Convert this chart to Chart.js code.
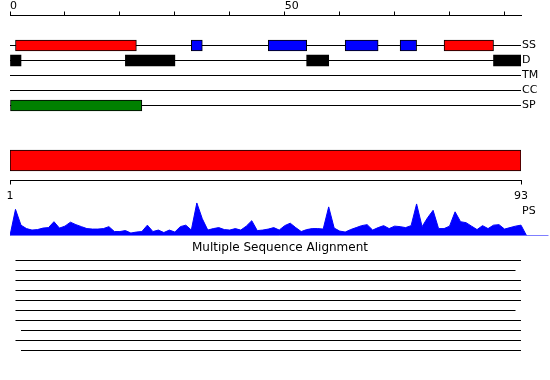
<!DOCTYPE html>
<html>
<head>
<meta charset="utf-8">
<script src="https://cdn.jsdelivr.net/npm/chart.js@4/dist/chart.umd.min.js"></script>
<style>
  body { margin: 0; background: #fff; }
  #wrap { position: relative; width: 550px; height: 380px; overflow: hidden; }
  canvas { position: absolute; left: 0; }
  #psLabel { position: absolute; left: 522px; top: 205px; font: 11px/11px "DejaVu Sans", sans-serif; color: #000; }
</style>
</head>
<body>
<div id="wrap">
  <canvas id="tracks" width="550" height="121" style="top:0"></canvas>
  <canvas id="domain" width="550" height="62" style="top:140px"></canvas>
  <canvas id="profile" width="550" height="40" style="top:200px"></canvas>
  <div id="psLabel">PS</div>
  <canvas id="msa" width="550" height="120" style="top:242px"></canvas>
</div>
<script>
// sequence + feature tracks
const SEQ_LEN = 93;
const topTicks = [0, 50];
const trackNames = ['SS', 'D', 'TM', 'CC', 'SP'];
const helices = [[1, 23], [79, 88]];
const strands = [[33, 35], [47, 54], [61, 67], [71, 74]];
const disorder = [[0, 2], [21, 30], [54, 58], [88, 93]];
const transmembrane = [];
const coiledCoil = [];
const signalPeptide = [[0, 24]];

// domain bar (PS)
const domain = [1, 93];

// per residue profile, residues 1..93
const profile = [
  26.5, 10.5, 7, 5.5, 6, 7.5, 8, 14, 7.5, 9.5,
  13.5, 11, 9, 7, 6.5, 6.5, 7, 9, 4, 4,
  5, 2.5, 3.5, 4, 10.5, 4, 5.5, 3, 5.5, 3.5,
  9, 10.5, 5.5, 33, 17, 5.5, 7, 8, 6, 5.5,
  7, 5.5, 9.5, 15, 5, 5.5, 6.5, 8, 5.5, 10,
  12.5, 8, 4, 6, 7, 7, 6.5, 29, 7.5, 4.5,
  3.5, 6, 8, 10, 11, 5.5, 8, 10, 7, 9.5,
  9, 8, 10, 32, 9, 18, 25.5, 7, 7, 9.5,
  24, 14, 13, 9.5, 6, 10, 7, 10.5, 11, 6.5,
  8, 9.5, 10.5
];

// alignment rows (start / end residue)
const msaStart = [1, 1, 1, 1, 1, 1, 1, 2, 1, 2];
const msaEnd = [93, 92, 93, 93, 93, 92, 93, 93, 93, 93];

// x range that keeps residue 93 under the same pixel when the plot runs to the right edge
const FULL_X = 540 * SEQ_LEN / 511;

Chart.defaults.font.family = '"DejaVu Sans", sans-serif';
Chart.defaults.font.size = 11;
Chart.defaults.color = '#000';
Chart.defaults.animation = false;
Chart.defaults.responsive = false;
Chart.defaults.plugins.legend.display = false;
Chart.defaults.plugins.tooltip.enabled = false;

const row = (name) => trackNames.indexOf(name) + 2;
const boxes = (ranges, name) => ranges.map(r => ({ x: r, y: row(name) }));
const boxStyle = {
  type: 'bar', indexAxis: 'y', grouped: false, barThickness: 11,
  borderSkipped: false, borderColor: '#000', borderWidth: 1, order: 0
};
// labels may stick out of the axis, don't let them shrink the plot
const noLabelPadding = (s) => {
  s.paddingTop = 0; s.paddingBottom = 0; s.paddingLeft = 0; s.paddingRight = 0;
};

// Tracks
new Chart(document.getElementById('tracks'), {
  type: 'line',
  data: {
    datasets: [
      { ...boxStyle, data: boxes(helices, 'SS'), backgroundColor: '#ff0000' },
      { ...boxStyle, data: boxes(strands, 'SS'), backgroundColor: '#0000ff' },
      { ...boxStyle, data: boxes(disorder, 'D'), backgroundColor: '#000000', borderWidth: 0 },
      { ...boxStyle, data: boxes(transmembrane, 'TM'), backgroundColor: '#000000' },
      { ...boxStyle, data: boxes(coiledCoil, 'CC'), backgroundColor: '#000000' },
      { ...boxStyle, data: boxes(signalPeptide, 'SP'), backgroundColor: '#008000' },
      ...trackNames.map(n => ({
        type: 'line',
        data: [{ x: 0, y: row(n) }, { x: SEQ_LEN, y: row(n) }],
        borderColor: '#000', borderWidth: 1, pointRadius: 0, order: 1
      }))
    ]
  },
  options: {
    devicePixelRatio: 1,
    layout: { padding: { left: 10, right: 0, top: 0.5, bottom: 0.5 } },
    scales: {
      x: {
        type: 'linear', position: 'top', min: 0, max: SEQ_LEN, offset: false,
        afterFit: (s) => { s.height = 15; noLabelPadding(s); },
        ticks: {
          stepSize: 10, includeBounds: false, autoSkip: false, maxRotation: 0,
          align: 'start', padding: 0, font: { size: 11, lineHeight: 1 },
          callback: (v) => topTicks.includes(v) ? String(v) : ''
        },
        grid: { drawOnChartArea: false, tickLength: 4, color: '#000', offset: false },
        border: { color: '#000' }
      },
      y: {
        type: 'linear', position: 'right', reverse: true, min: 0, max: 7, offset: false,
        afterBuildTicks: (s) => { s.ticks = trackNames.map(n => ({ value: row(n) })); },
        afterFit: (s) => { s.width = 29; noLabelPadding(s); },
        ticks: { padding: 1, autoSkip: false, callback: (v) => trackNames[v - 2] ?? '' },
        grid: { display: false, drawTicks: false, offset: false },
        border: { display: false }
      }
    }
  }
});

// Domain bar
new Chart(document.getElementById('domain'), {
  type: 'bar',
  data: {
    labels: ['PS'],
    datasets: [{
      data: [domain], backgroundColor: '#ff0000', borderColor: '#000',
      borderWidth: 1, borderSkipped: false, barThickness: 21
    }]
  },
  options: {
    indexAxis: 'y',
    devicePixelRatio: 1,
    layout: { padding: { left: 10, right: 29, top: 0.5, bottom: 0 } },
    scales: {
      x: {
        type: 'linear', position: 'bottom', min: domain[0], max: domain[1],
        afterBuildTicks: (s) => { s.ticks = domain.map(v => ({ value: v })); },
        afterFit: (s) => { s.height = 21.5; noLabelPadding(s); },
        ticks: { padding: 5, autoSkip: false, maxRotation: 0 },
        grid: { drawOnChartArea: false, tickLength: 4, color: '#000' },
        border: { color: '#000' }
      },
      y: { display: false }
    }
  }
});

// Profile
const profilePoints = [{ x: 0, y: 0 }]
  .concat(profile.map((v, i) => ({ x: i + 1, y: v })))
  .concat([{ x: profile.length + 1, y: 0 }]);

new Chart(document.getElementById('profile'), {
  type: 'line',
  data: {
    datasets: [
      {
        data: profilePoints, fill: 'origin', backgroundColor: '#0000ff',
        borderColor: '#0000ff', borderWidth: 1, pointRadius: 0, tension: 0
      },
      {
        data: [{ x: 0, y: 0 }, { x: 98, y: 0 }], fill: false,
        borderColor: '#0000ff', borderWidth: 1, pointRadius: 0
      }
    ]
  },
  options: {
    devicePixelRatio: 1,
    layout: { padding: { left: 10, right: 0, top: 0, bottom: 4.5 } },
    scales: {
      x: { type: 'linear', display: false, min: 0, max: FULL_X },
      y: { display: false, min: 0, max: 36 }
    }
  }
});

// Multiple sequence alignment
new Chart(document.getElementById('msa'), {
  type: 'line',
  data: {
    datasets: msaStart.map((s, i) => ({
      data: [{ x: s, y: i + 1 }, { x: msaEnd[i], y: i + 1 }],
      borderColor: '#000', borderWidth: 1, pointRadius: 0
    }))
  },
  options: {
    devicePixelRatio: 1,
    layout: { padding: { left: 10, right: 0, top: 0, bottom: 6.5 } },
    plugins: {
      title: {
        display: true, text: 'Multiple Sequence Alignment', color: '#000',
        font: { size: 12, weight: 'normal', lineHeight: 1 },
        padding: { top: 0, bottom: 1.5 }
      }
    },
    scales: {
      x: { type: 'linear', display: false, min: 0, max: FULL_X },
      y: { display: false, reverse: true, min: 0.5, max: 10.5 }
    }
  }
});
</script>
</body>
</html>
